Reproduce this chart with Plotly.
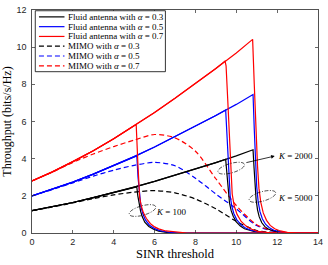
import math
import plotly.graph_objects as go

# ---------------- data ----------------
SINR_RISE = [0, 1, 2, 3, 4, 5, 6, 7, 8, 9, 10]
FA_RISE_03 = [1.20, 1.41, 1.64, 1.90, 2.17, 2.47, 2.78, 3.11, 3.44, 3.79, 4.15]
FA_RISE_05 = [2.00, 2.35, 2.74, 3.17, 3.62, 4.11, 4.63, 5.18, 5.74, 6.32, 6.92]
FA_RISE_07 = [2.80, 3.29, 3.84, 4.43, 5.07, 5.76, 6.49, 7.25, 8.04, 8.85, 9.69]

# fall-off part of the fluid-antenna curves for K = 100, 2000, 5000
K100_03_X = [5.13, 5.18, 5.24, 5.32, 5.40, 5.52, 5.72, 5.95, 6.20, 6.60, 7.10, 14]
K100_03_Y = [2.48, 2.00, 1.58, 1.15, 0.87, 0.58, 0.35, 0.20, 0.10, 0.03, 0.0, 0.0]
K100_05_X = [5.13, 5.19, 5.26, 5.33, 5.42, 5.55, 5.75, 5.98, 6.25, 6.70, 7.30, 14]
K100_05_Y = [4.15, 3.00, 2.00, 1.45, 1.05, 0.70, 0.42, 0.25, 0.13, 0.04, 0.0, 0.0]
K100_07_X = [5.10, 5.18, 5.27, 5.35, 5.45, 5.60, 5.80, 6.00, 6.20, 6.55, 7.00, 7.60, 14]
K100_07_Y = [5.84, 3.80, 1.90, 1.45, 1.10, 0.78, 0.50, 0.33, 0.22, 0.11, 0.05, 0.0, 0.0]

K2000_03_X = [9.48, 9.55, 9.61, 9.67, 9.75, 9.85, 10.00, 10.20, 10.40, 10.65, 10.90, 11.30, 11.80, 14]
K2000_03_Y = [3.97, 3.00, 2.15, 1.60, 1.20, 0.90, 0.60, 0.37, 0.23, 0.13, 0.07, 0.02, 0.0, 0.0]
K2000_05_X = [9.48, 9.56, 9.63, 9.70, 9.78, 9.88, 10.02, 10.22, 10.45, 10.72, 11.00, 11.45, 12.00, 14]
K2000_05_Y = [6.62, 4.60, 3.00, 2.00, 1.45, 1.05, 0.72, 0.45, 0.27, 0.15, 0.08, 0.02, 0.0, 0.0]
K2000_07_X = [9.45, 9.50, 9.58, 9.66, 9.73, 9.80, 9.90, 10.04, 10.24, 10.48, 10.76, 11.05, 11.50, 12.10, 14]
K2000_07_Y = [9.25, 9.00, 7.20, 5.30, 3.30, 2.10, 1.45, 1.00, 0.62, 0.37, 0.20, 0.09, 0.03, 0.0, 0.0]

K5000_03_X = [10.82, 10.87, 10.92, 10.97, 11.04, 11.12, 11.25, 11.40, 11.58, 11.80, 12.05, 12.40, 12.90, 14]
K5000_03_Y = [4.48, 3.50, 2.50, 1.80, 1.25, 0.88, 0.55, 0.34, 0.20, 0.11, 0.05, 0.01, 0.0, 0.0]
K5000_05_X = [10.82, 10.88, 10.94, 11.00, 11.07, 11.16, 11.28, 11.44, 11.62, 11.84, 12.10, 12.45, 12.95, 14]
K5000_05_Y = [7.45, 5.60, 3.80, 2.50, 1.70, 1.15, 0.75, 0.46, 0.28, 0.15, 0.07, 0.02, 0.0, 0.0]
K5000_07_X = [10.80, 10.88, 10.96, 11.04, 11.11, 11.20, 11.32, 11.48, 11.66, 11.88, 12.15, 12.50, 13.00, 14]
K5000_07_Y = [10.42, 8.00, 5.60, 3.60, 2.40, 1.65, 1.08, 0.68, 0.41, 0.23, 0.11, 0.03, 0.0, 0.0]

# MIMO curves
MIMO_X = [0, 1, 2, 3, 4, 5, 6, 7, 8, 9, 10, 11, 12, 13, 14]
MIMO_03 = [1.20, 1.40, 1.62, 1.85, 2.05, 2.20, 2.28, 2.16, 1.83, 1.30, 0.63, 0.13, 0.02, 0.0, 0.0]
MIMO_05 = [2.00, 2.34, 2.70, 3.06, 3.38, 3.64, 3.80, 3.62, 2.95, 2.10, 1.30, 0.40, 0.06, 0.01, 0.0]
MIMO_07 = [2.80, 3.28, 3.80, 4.25, 4.65, 5.00, 5.30, 5.12, 4.40, 2.92, 1.48, 0.45, 0.07, 0.01, 0.0]

LEGEND_LABELS = [
    "Fluid antenna with <i>α</i> = 0.3",
    "Fluid antenna with <i>α</i> = 0.5",
    "Fluid antenna with <i>α</i> = 0.7",
    "MIMO with <i>α</i> = 0.3",
    "MIMO with <i>α</i> = 0.5",
    "MIMO with <i>α</i> = 0.7",
]
K_LABELS = ["<i>K</i> = 100", "<i>K</i> = 2000", "<i>K</i> = 5000"]
X_TICKS = [0, 2, 4, 6, 8, 10, 12, 14]
Y_TICKS = [0, 2, 4, 6, 8, 10, 12]

# ---------------- styles ----------------
BLACK, BLUE, RED = "#000000", "#0000FF", "#FF0000"
SERIF = "Liberation Serif"
SANS = "Liberation Sans"
AXC = "#262626"
LW = 1.2
DASH = "5px,3px"

fig = go.Figure()


def fa_curve(rise, drop_x, drop_y):
    xs = [x for x in SINR_RISE if x < drop_x[0]]
    ys = [rise[i] for i, x in enumerate(SINR_RISE) if x < drop_x[0]]
    return xs + drop_x, ys + drop_y


fa_sets = [
    (FA_RISE_03, BLACK, [(K100_03_X, K100_03_Y), (K2000_03_X, K2000_03_Y), (K5000_03_X, K5000_03_Y)]),
    (FA_RISE_05, BLUE, [(K100_05_X, K100_05_Y), (K2000_05_X, K2000_05_Y), (K5000_05_X, K5000_05_Y)]),
    (FA_RISE_07, RED, [(K100_07_X, K100_07_Y), (K2000_07_X, K2000_07_Y), (K5000_07_X, K5000_07_Y)]),
]

# MIMO dashed first (behind), then fluid antenna
for ys, col in [(MIMO_03, BLACK), (MIMO_05, BLUE), (MIMO_07, RED)]:
    fig.add_trace(go.Scatter(x=MIMO_X, y=ys, mode="lines", showlegend=False, hoverinfo="skip",
                             line=dict(color=col, width=LW, dash=DASH, shape="spline", smoothing=0.8)))

for rise, col, drops in fa_sets:
    for dx, dy in drops:
        xs, ys = fa_curve(rise, dx, dy)
        fig.add_trace(go.Scatter(x=xs, y=ys, mode="lines", showlegend=False, hoverinfo="skip",
                                 line=dict(color=col, width=LW)))

# ---------------- manual legend ----------------
shapes = []
annotations = []
px_per_x = 291 / 14.0
px_per_y = 228 / 12.0
shapes.append(dict(type="rect", xref="x", yref="y", x0=0.16, x1=6.53, y0=8.68, y1=11.96,
                   line=dict(color=BLACK, width=0.8), fillcolor="white", layer="above"))
leg_cols = [BLACK, BLUE, RED, BLACK, BLUE, RED]
for i, lab in enumerate(LEGEND_LABELS):
    yy = 11.63 - i * 10 / px_per_y
    shapes.append(dict(type="line", xref="x", yref="y", x0=0.34, x1=1.59, y0=yy, y1=yy,
                       line=dict(color=leg_cols[i], width=LW, dash=None if i < 3 else DASH), layer="above"))
    annotations.append(dict(x=1.66, y=yy, xref="x", yref="y", text=lab, showarrow=False,
                            xanchor="left", yanchor="middle", font=dict(family=SERIF, size=9, color=BLACK)))


# ---------------- ellipses ----------------
def ellipse_path(cx, cy, a_px, b_px, ang_deg):
    ang = math.radians(ang_deg)
    pts = []
    for k in range(49):
        t = 2 * math.pi * k / 48
        ex = a_px * math.cos(t)
        ey = b_px * math.sin(t)
        rx = ex * math.cos(ang) - ey * math.sin(ang)
        ry = ex * math.sin(ang) + ey * math.cos(ang)
        pts.append((cx + rx / px_per_x, cy + ry / px_per_y))
    return "M" + " L".join(f"{x:.4f},{y:.4f}" for x, y in pts) + " Z"


for (cx, cy) in [(5.41, 1.21), (9.75, 3.49), (11.28, 1.97)]:
    shapes.append(dict(type="path", xref="x", yref="y", path=ellipse_path(cx, cy, 14, 4.8, 16),
                       line=dict(color=BLACK, width=0.7, dash="4px,1.5px,1px,1.5px")))

# arrow for K = 2000
annotations.append(dict(x=11.88, y=4.14, ax=10.42, ay=3.77, xref="x", yref="y", axref="x", ayref="y",
                        text="", showarrow=True, arrowhead=2, arrowsize=0.9, arrowwidth=0.8,
                        arrowcolor=BLACK))
for lab, (tx, ty) in zip(K_LABELS, [(5.98, 1.14), (11.95, 4.12), (11.95, 1.87)]):
    annotations.append(dict(x=tx, y=ty, xref="x", yref="y", text=lab, showarrow=False,
                            xanchor="left", yanchor="middle", font=dict(family=SERIF, size=9, color=BLACK)))

fig.update_layout(
    width=328, height=265, autosize=False,
    margin=dict(l=31, r=6, t=5, b=32, pad=0),
    paper_bgcolor="white", plot_bgcolor="white",
    shapes=shapes, annotations=annotations, hovermode=False,
    xaxis=dict(range=[0, 14], tickvals=X_TICKS, ticks="inside", ticklen=3, tickwidth=0.7,
               tickcolor=AXC, showline=True, linecolor=AXC, linewidth=0.8, mirror="allticks",
               showgrid=False, zeroline=False, tickfont=dict(family=SANS, size=9, color=AXC),
               title=dict(text="SINR threshold", font=dict(family=SERIF, size=12.5, color=BLACK), standoff=3)),
    yaxis=dict(range=[0, 12], tickvals=Y_TICKS, ticks="inside", ticklen=3, tickwidth=0.7,
               tickcolor=AXC, showline=True, linecolor=AXC, linewidth=0.8, mirror="allticks",
               showgrid=False, zeroline=False, tickfont=dict(family=SANS, size=9, color=AXC),
               ticklabelstandoff=3,
               title=dict(text="Throughput (bits/s/Hz)", font=dict(family=SERIF, size=12, color=BLACK), standoff=3)),
)

fig.write_html("out.html", config={"displayModeBar": False, "staticPlot": True},
               post_script="document.body.style.margin='0';document.body.style.overflow='hidden';")
